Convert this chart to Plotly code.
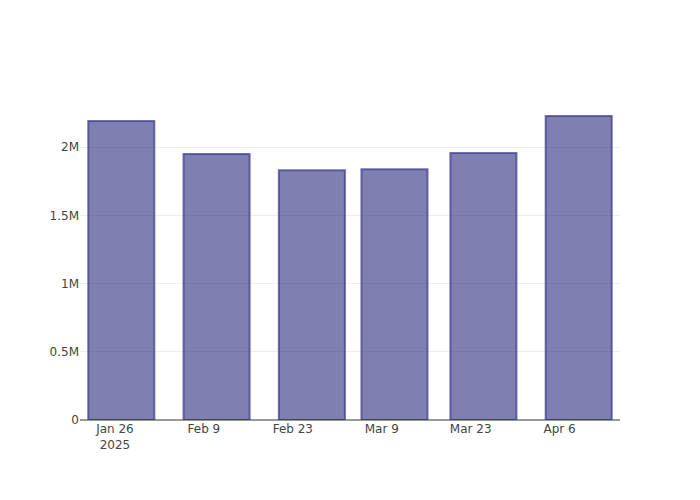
import plotly.graph_objects as go

dates = ["2025-01-27", "2025-02-11", "2025-02-26", "2025-03-11", "2025-03-25", "2025-04-09"]
values = [2191000, 1949000, 1831000, 1838000, 1956000, 2228000]

fig = go.Figure(go.Bar(
    x=dates, y=values,
    marker=dict(color="rgba(0,0,100,0.5)", line=dict(color="rgba(55,55,140,0.7)", width=2)),
))
fig.update_layout(
    template="plotly_white",
    width=700, height=500,
    margin=dict(l=72, r=88, t=92, b=88),
    showlegend=False,
    font=dict(family="DejaVu Sans, sans-serif", size=12, color="#444"),
)
fig.update_xaxes(showline=False, tickformat="%b %-d\n%Y")
fig.update_yaxes(gridcolor="#EEEEEE", zeroline=True, zerolinecolor="#999", zerolinewidth=2)
fig.write_html("out.html")
